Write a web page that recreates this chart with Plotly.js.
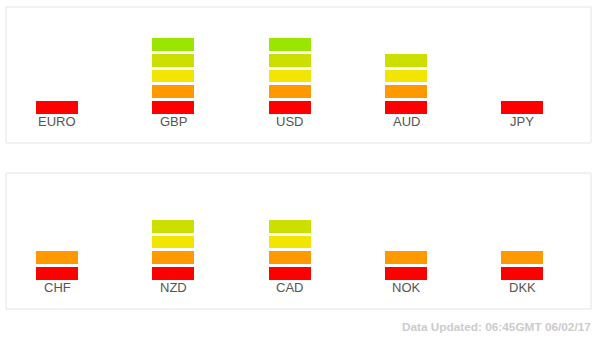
<!DOCTYPE html>
<html>
<head>
<meta charset="utf-8">
<script src="https://cdn.plot.ly/plotly-3.0.1.min.js"></script>
<style>
  html, body { margin: 0; padding: 0; background: #ffffff; }
  #chart { width: 600px; height: 339px; }
</style>
</head>
<body>
<div id="chart"></div>
<script>
// Data
const currenciesTop = ['EURO', 'GBP', 'USD', 'AUD', 'JPY'];
const strengthTop = [1, 5, 5, 4, 1];
const currenciesBottom = ['CHF', 'NZD', 'CAD', 'NOK', 'DKK'];
const strengthBottom = [2, 4, 4, 2, 2];
const levelColors = ['#ff0000', '#ff9900', '#f2e600', '#cce000', '#99e600'];
const footerText = 'Data Updated: 06:45GMT 06/02/17';

const traces = [];
function addPanel(cats, strength, xa, ya) {
  levelColors.forEach((col, i) => {
    const level = i + 1;
    traces.push({
      type: 'bar',
      x: cats,
      y: strength.map(s => (s >= level ? 1 : null)),
      xaxis: xa,
      yaxis: ya,
      marker: { color: col, line: { color: '#ffffff', width: 3 } },
      hoverinfo: 'skip',
      showlegend: false
    });
  });
}
addPanel(currenciesTop, strengthTop, 'x', 'y');
addPanel(currenciesBottom, strengthBottom, 'x2', 'y2');

const labelFont = { family: '"Liberation Sans", Arial, sans-serif', size: 13, color: '#555555' };
const annotations = [];
currenciesTop.forEach(c => annotations.push({
  x: c, y: 0, xref: 'x', yref: 'y', yanchor: 'top', xanchor: 'center', yshift: 3,
  text: c, showarrow: false, font: labelFont
}));
currenciesBottom.forEach(c => annotations.push({
  x: c, y: 0, xref: 'x2', yref: 'y2', yanchor: 'top', xanchor: 'center', yshift: 3,
  text: c, showarrow: false, font: labelFont
}));
annotations.push({
  x: 1, y: -0.058, xref: 'paper', yref: 'paper', xanchor: 'right', yanchor: 'middle', xshift: 2,
  text: '<b>' + footerText + '</b>', showarrow: false,
  font: { family: '"Liberation Sans", Arial, sans-serif', size: 11.8, color: '#cccccc' }
});

const boxLine = { color: '#e4e4e4', width: 1 };
const shapes = [
  { type: 'rect', xref: 'x domain', yref: 'y domain', x0: 0, x1: 1, y0: 0, y1: 1, line: boxLine },
  { type: 'rect', xref: 'x2 domain', yref: 'y2 domain', x0: 0, x1: 1, y0: 0, y1: 1, line: boxLine }
];

const hiddenX = { range: [-0.44, 4.59], showgrid: false, zeroline: false, showticklabels: false, ticks: '', fixedrange: true };
const hiddenY = { range: [-1.77, 6.9], showgrid: false, zeroline: false, showticklabels: false, ticks: '', fixedrange: true };

const layout = {
  width: 600,
  height: 339,
  margin: { l: 6, r: 9, t: 7, b: 30 },
  paper_bgcolor: '#ffffff',
  plot_bgcolor: '#ffffff',
  barmode: 'stack',
  bargap: 0.613,
  showlegend: false,
  xaxis: Object.assign({ anchor: 'y', domain: [0, 1], type: 'category' }, hiddenX),
  yaxis: Object.assign({ anchor: 'x', domain: [0.5497, 1] }, hiddenY),
  xaxis2: Object.assign({ anchor: 'y2', domain: [0, 1], type: 'category' }, hiddenX),
  yaxis2: Object.assign({ anchor: 'x2', domain: [0, 0.4503] }, hiddenY),
  annotations: annotations,
  shapes: shapes
};

Plotly.newPlot('chart', traces, layout, { staticPlot: true, displayModeBar: false });
</script>
</body>
</html>
